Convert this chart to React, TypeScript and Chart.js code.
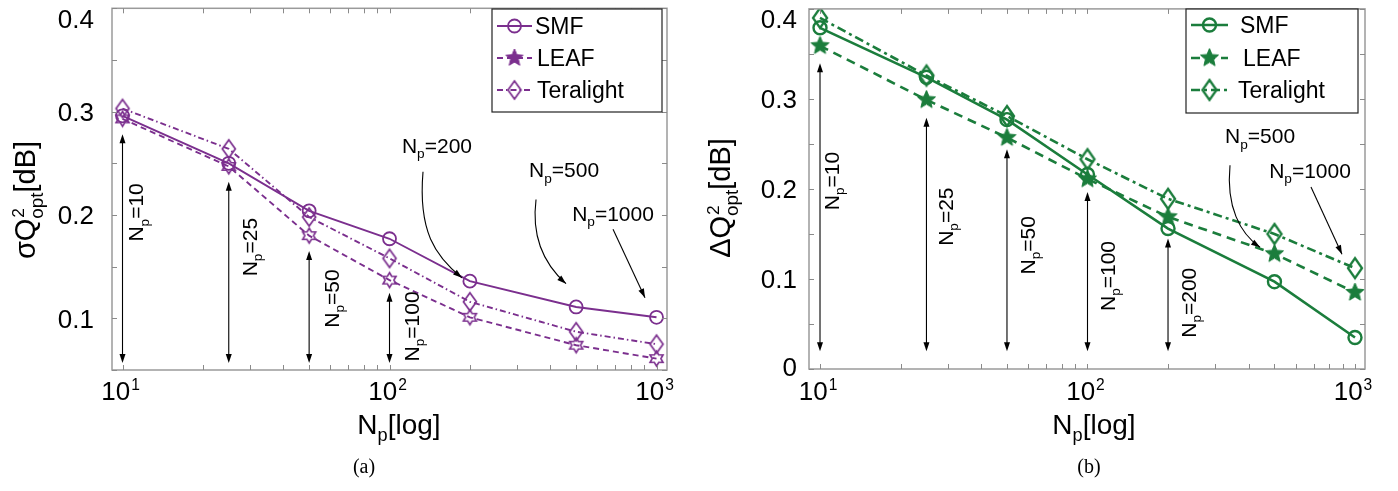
import React, { useEffect, useRef } from 'react';
import { Chart, registerables } from 'chart.js';

Chart.register(...registerables);

// ---------------- data ----------------
const npValues = [10, 25, 50, 100, 200, 500, 1000];
const fiberNames = ['SMF', 'LEAF', 'Teralight'];

// (a) sigma Q^2_opt [dB]
const sigmaSMF = [0.296, 0.25, 0.204, 0.177, 0.136, 0.111, 0.101];
const sigmaLEAF = [0.293, 0.247, 0.18, 0.137, 0.101, 0.074, 0.061];
const sigmaTeralight = [0.303, 0.264, 0.198, 0.158, 0.116, 0.087, 0.075];

// (b) Delta Q^2_opt [dB]
const deltaSMF = [0.379, 0.324, 0.277, 0.216, 0.156, 0.097, 0.035];
const deltaLEAF = [0.359, 0.299, 0.257, 0.211, 0.169, 0.128, 0.085];
const deltaTeralight = [0.39, 0.326, 0.281, 0.233, 0.189, 0.15, 0.112];

const xTickValues = [10, 100, 1000];
const xTickLabels = ['10', '10', '10'];
const xTickExponents = ['1', '2', '3'];
const xMinorTickValues = [20, 30, 40, 50, 60, 70, 80, 90, 200, 300, 400, 500, 600, 700, 800, 900];

const yTickValuesA = [0.1, 0.2, 0.3, 0.4];
const yTickLabelsA = ['0.1', '0.2', '0.3', '0.4'];
const yMinorTickValuesA = [0.05, 0.1, 0.15, 0.2, 0.25, 0.3, 0.35, 0.4];
const yTickValuesB = [0, 0.1, 0.2, 0.3, 0.4];
const yTickLabelsB = ['0', '0.1', '0.2', '0.3', '0.4'];
const yMinorTickValuesB = [0, 0.05, 0.1, 0.15, 0.2, 0.25, 0.3, 0.35, 0.4];

// annotations (data coordinates)
const vArrowsA = [
  { x: 10, from: 0.2782, to: 0.0568 },
  { x: 25, from: 0.2322, to: 0.0568 },
  { x: 50, from: 0.1651, to: 0.0568 },
  { x: 100, from: 0.1248, to: 0.0568 },
];
const vLabelsA = [
  { x: 11.23, y: 0.2025, n: '10' },
  { x: 29.77, y: 0.1689, n: '25' },
  { x: 60.38, y: 0.1191, n: '50' },
  { x: 120.4, y: 0.0922, n: '100' },
];
const hLabelsA = [
  { x: 150.6, y: 0.2677, n: '200' },
  { x: 450.5, y: 0.2437, n: '500' },
  { x: 687.3, y: 0.2015, n: '1000' },
];
const pointersA = [
  [[133.5, 0.2418], [127.9, 0.1843], [148.1, 0.1603], [186.8, 0.1392]],
  [[353.8, 0.215], [338.8, 0.1766], [382.3, 0.1517], [458.2, 0.1335]],
  [[687.3, 0.1862], [905.4, 0.12]],
];
const vArrowsB = [
  { x: 10, from: 0.3396, to: 0.0198 },
  { x: 25, from: 0.279, to: 0.0198 },
  { x: 50, from: 0.244, to: 0.0198 },
  { x: 100, from: 0.1967, to: 0.0198 },
  { x: 200, from: 0.145, to: 0.0198 },
];
const vLabelsB = [
  { x: 11.0, y: 0.2088, n: '10' },
  { x: 29.33, y: 0.1692, n: '25' },
  { x: 59.4, y: 0.1374, n: '50' },
  { x: 118.3, y: 0.1033, n: '100' },
  { x: 237.5, y: 0.0736, n: '200' },
];
const hLabelsB = [
  { x: 441.6, y: 0.2593, n: '500' },
  { x: 678.9, y: 0.2209, n: '1000' },
];
const pointersB = [
  [[341.0, 0.2264], [329.5, 0.1802], [371.6, 0.1505], [441.6, 0.1352]],
  [[684.7, 0.2022], [894.0, 0.1275]],
];

// ---------------- helpers ----------------
const FONT = "'Liberation Sans', Arial, Helvetica, sans-serif";
const SERIF = "'Liberation Serif', 'Times New Roman', serif";
const PURPLE = '#7b2f8e';
const GREEN = '#1b7d3c';

type Part = { t: string; sup?: string; sub?: string };

function partsWidth(ctx: CanvasRenderingContext2D, parts: Part[], f: number) {
  let w = 0;
  for (const p of parts) {
    ctx.font = `${f}px ${FONT}`;
    w += ctx.measureText(p.t).width;
    let adv = 0;
    if (p.sup) {
      ctx.font = `${f * 0.6}px ${FONT}`;
      adv = Math.max(adv, ctx.measureText(p.sup).width + 1);
    }
    if (p.sub) {
      ctx.font = `${f * 0.65}px ${FONT}`;
      adv = Math.max(adv, ctx.measureText(p.sub).width);
    }
    w += adv;
  }
  return w;
}

function drawParts(ctx: CanvasRenderingContext2D, parts: Part[], x: number, y: number, f: number, align: string) {
  const w = partsWidth(ctx, parts, f);
  let cx = align === 'center' ? x - w / 2 : align === 'right' ? x - w : x;
  ctx.textAlign = 'left';
  ctx.textBaseline = 'alphabetic';
  for (const p of parts) {
    ctx.font = `${f}px ${FONT}`;
    ctx.fillText(p.t, cx, y);
    cx += ctx.measureText(p.t).width;
    let adv = 0;
    if (p.sup) {
      ctx.font = `${f * 0.6}px ${FONT}`;
      ctx.fillText(p.sup, cx + 1, y - f * 0.38);
      adv = Math.max(adv, ctx.measureText(p.sup).width + 1);
    }
    if (p.sub) {
      ctx.font = `${f * 0.65}px ${FONT}`;
      ctx.fillText(p.sub, cx, y + f * 0.26);
      adv = Math.max(adv, ctx.measureText(p.sub).width);
    }
    cx += adv;
  }
}

function arrowHead(ctx: CanvasRenderingContext2D, x: number, y: number, ang: number, len: number, half: number) {
  const bx = x - len * Math.cos(ang);
  const by = y - len * Math.sin(ang);
  ctx.beginPath();
  ctx.moveTo(x, y);
  ctx.lineTo(bx + half * Math.sin(ang), by - half * Math.cos(ang));
  ctx.lineTo(bx - half * Math.sin(ang), by + half * Math.cos(ang));
  ctx.closePath();
  ctx.fill();
}

function makeMarker(size: number, draw: (c: CanvasRenderingContext2D) => void) {
  const cv = document.createElement('canvas');
  cv.width = size;
  cv.height = size;
  const c = cv.getContext('2d') as CanvasRenderingContext2D;
  c.translate(size / 2, size / 2);
  draw(c);
  return cv;
}

function starPath(c: CanvasRenderingContext2D, n: number, R: number, r: number) {
  c.beginPath();
  for (let i = 0; i < n * 2; i++) {
    const a = -Math.PI / 2 + (i * Math.PI) / n;
    const rr = i % 2 === 0 ? R : r;
    const px = rr * Math.cos(a);
    const py = rr * Math.sin(a);
    if (i === 0) c.moveTo(px, py);
    else c.lineTo(px, py);
  }
  c.closePath();
}

function hexagram(color: string, R: number, lw: number) {
  return makeMarker(Math.ceil(2 * R + 6), (c) => {
    starPath(c, 6, R, R / Math.sqrt(3));
    c.strokeStyle = color;
    c.lineWidth = lw;
    c.lineJoin = 'miter';
    c.stroke();
  });
}

function pentagram(color: string, R: number, lw: number) {
  return makeMarker(Math.ceil(2 * R + 6), (c) => {
    starPath(c, 5, R, R * 0.45);
    c.fillStyle = color;
    c.fill();
    c.strokeStyle = color;
    c.lineWidth = lw;
    c.stroke();
  });
}

function diamond(color: string, hw: number, hh: number, lw: number) {
  return makeMarker(Math.ceil(2 * hh + 6), (c) => {
    c.beginPath();
    c.moveTo(0, -hh);
    c.lineTo(hw, 0);
    c.lineTo(0, hh);
    c.lineTo(-hw, 0);
    c.closePath();
    c.strokeStyle = color;
    c.lineWidth = lw;
    c.stroke();
  });
}

const npLabel = (n: string): Part[] => [{ t: 'N', sub: 'p' }, { t: '=' + n }];

function makeDecor(d: any) {
  return {
    id: 'decor',
    afterDatasetsDraw(chart: any) {
      const { ctx, chartArea: a, scales } = chart;
      const xs = scales.x;
      const ys = scales.y;
      ctx.save();
      // frame
      ctx.strokeStyle = '#9a9a9a';
      ctx.lineWidth = 1.5;
      ctx.strokeRect(a.left, a.top, a.right - a.left, a.bottom - a.top);
      // inward ticks
      ctx.strokeStyle = '#8a8a8a';
      ctx.lineWidth = 1;
      ctx.beginPath();
      for (const v of [...xTickValues, ...xMinorTickValues]) {
        const px = Math.round(xs.getPixelForValue(v)) + 0.5;
        ctx.moveTo(px, a.bottom);
        ctx.lineTo(px, a.bottom - 5);
        ctx.moveTo(px, a.top);
        ctx.lineTo(px, a.top + 5);
      }
      for (const v of d.yMinor) {
        const py = Math.round(ys.getPixelForValue(v)) + 0.5;
        ctx.moveTo(a.left, py);
        ctx.lineTo(a.left + 5, py);
        ctx.moveTo(a.right, py);
        ctx.lineTo(a.right - 5, py);
      }
      ctx.stroke();

      // annotations
      ctx.strokeStyle = '#000';
      ctx.fillStyle = '#000';
      ctx.lineWidth = 1.1;
      for (const ar of d.vArrows) {
        const px = xs.getPixelForValue(ar.x);
        const y1 = ys.getPixelForValue(ar.from);
        const y2 = ys.getPixelForValue(ar.to);
        ctx.beginPath();
        ctx.moveTo(px, y1 + 4);
        ctx.lineTo(px, y2 - 4);
        ctx.stroke();
        arrowHead(ctx, px, y1, -Math.PI / 2, 9, 3);
        arrowHead(ctx, px, y2, Math.PI / 2, 9, 3);
      }
      for (const p of d.pointers) {
        const pts = p.map((q: number[]) => [xs.getPixelForValue(q[0]), ys.getPixelForValue(q[1])]);
        ctx.beginPath();
        ctx.moveTo(pts[0][0], pts[0][1]);
        let ang;
        const last = pts[pts.length - 1];
        if (pts.length === 4) {
          ctx.bezierCurveTo(pts[1][0], pts[1][1], pts[2][0], pts[2][1], last[0], last[1]);
          ang = Math.atan2(last[1] - pts[2][1], last[0] - pts[2][0]);
        } else {
          ctx.lineTo(last[0], last[1]);
          ang = Math.atan2(last[1] - pts[0][1], last[0] - pts[0][0]);
        }
        ctx.stroke();
        arrowHead(ctx, last[0], last[1], ang, 9, 3);
      }
      const af = 21;
      for (const l of d.vLabels) {
        const px = xs.getPixelForValue(l.x);
        const py = ys.getPixelForValue(l.y);
        ctx.save();
        ctx.translate(px + 0.358 * af, py);
        ctx.rotate(-Math.PI / 2);
        drawParts(ctx, npLabel(l.n), 0, 0, af, 'center');
        ctx.restore();
      }
      for (const l of d.hLabels) {
        const px = xs.getPixelForValue(l.x);
        const py = ys.getPixelForValue(l.y);
        drawParts(ctx, npLabel(l.n), px, py + 0.358 * af, af, 'center');
      }

      // legend
      const L = d.legend;
      ctx.fillStyle = '#fff';
      ctx.fillRect(L.x, L.y, L.w, L.h);
      ctx.strokeStyle = '#222';
      ctx.lineWidth = 1.2;
      ctx.strokeRect(L.x, L.y, L.w, L.h);
      chart.data.datasets.forEach((ds: any, i: number) => {
        const row = L.rows[i];
        ctx.strokeStyle = ds.borderColor;
        ctx.lineWidth = ds.borderWidth;
        ctx.setLineDash(ds.borderDash || []);
        ctx.beginPath();
        ctx.moveTo(L.x1, row.y);
        ctx.lineTo(L.x2, row.y);
        ctx.stroke();
        ctx.setLineDash([]);
        const style = (L.markers && L.markers[i]) || ds.pointStyle;
        const mx = (L.x1 + L.x2) / 2;
        if (typeof style === 'string') {
          ctx.beginPath();
          ctx.arc(mx, row.y, ds.pointRadius, 0, Math.PI * 2);
          ctx.lineWidth = ds.pointBorderWidth;
          ctx.strokeStyle = ds.pointBorderColor;
          ctx.stroke();
        } else {
          ctx.drawImage(style, mx - style.width / 2, row.y - style.height / 2);
        }
        ctx.fillStyle = '#000';
        ctx.font = `${L.font}px ${FONT}`;
        ctx.textAlign = 'left';
        ctx.textBaseline = 'alphabetic';
        ctx.fillText(fiberNames[i], row.textX, row.y + 0.358 * L.font);
      });
      ctx.restore();
    },
    afterDraw(chart: any) {
      const { ctx, chartArea: a, scales } = chart;
      const xs = scales.x;
      const ys = scales.y;
      ctx.save();
      ctx.fillStyle = '#000';
      const tf = 26;
      d.yTicks.forEach((v: number, i: number) => {
        let py = ys.getPixelForValue(v);
        py = Math.min(Math.max(py, a.top + 10), a.bottom - 2);
        ctx.font = `${tf}px ${FONT}`;
        ctx.textAlign = 'right';
        ctx.textBaseline = 'alphabetic';
        ctx.fillText(d.yLabels[i], a.left - d.labelGap, py + 0.358 * tf);
      });
      xTickValues.forEach((v, i) => {
        const px = xs.getPixelForValue(v);
        drawParts(ctx, [{ t: xTickLabels[i], sup: xTickExponents[i] }], px - 2, 400, tf, 'center');
      });
      // axis titles
      drawParts(ctx, [{ t: 'N', sub: 'p' }, { t: '[log]' }], d.xTitleX, 434, 28, 'center');
      ctx.save();
      ctx.translate(d.yTitleX, d.yTitleY);
      ctx.rotate(-Math.PI / 2);
      drawParts(ctx, d.yTitle, 0, 0, 29, 'center');
      ctx.restore();
      // caption
      ctx.font = `20px ${SERIF}`;
      ctx.textAlign = 'center';
      ctx.textBaseline = 'alphabetic';
      ctx.fillText(d.caption, d.captionX, 473);
      ctx.restore();
    },
  };
}

function buildDatasets(values: number[][], color: string, lw: number, styles: any[], dashes: number[][], circleR: number, circleW: number) {
  return values.map((vals, i) => ({
    label: fiberNames[i],
    data: npValues.map((x, j) => ({ x, y: vals[j] })),
    borderColor: color,
    borderWidth: lw,
    borderDash: dashes[i],
    pointStyle: styles[i],
    pointRadius: circleR,
    pointHoverRadius: circleR,
    pointBorderColor: color,
    pointBackgroundColor: 'rgba(0,0,0,0)',
    pointBorderWidth: circleW,
    tension: 0,
    fill: false,
  }));
}

function makeOptions(xmin: number, xmax: number, ymin: number, ymax: number, pad: any) {
  return {
    animation: false as const,
    responsive: false,
    maintainAspectRatio: false,
    devicePixelRatio: 1,
    events: [] as any[],
    layout: { padding: pad },
    scales: {
      x: { type: 'logarithmic' as const, min: xmin, max: xmax, bounds: 'data' as const, display: false },
      y: { type: 'linear' as const, min: ymin, max: ymax, bounds: 'data' as const, display: false },
    },
    plugins: { legend: { display: false }, tooltip: { enabled: false }, title: { display: false } },
  };
}

export default function App() {
  const refA = useRef<HTMLCanvasElement>(null);
  const refB = useRef<HTMLCanvasElement>(null);

  useEffect(() => {
    const charts: Chart[] = [];
    const hexA = hexagram(PURPLE, 7.5, 1.6);
    const diaA = diamond(PURPLE, 6.5, 9, 1.7);
    const pentLegA = pentagram(PURPLE, 9, 1);
    const pentB = pentagram(GREEN, 9.5, 1);
    const diaB = diamond(GREEN, 7, 10, 2.3);

    if (refA.current) {
      const dsA = buildDatasets(
        [sigmaSMF, sigmaLEAF, sigmaTeralight],
        PURPLE,
        1.9,
        ['circle', hexA, diaA],
        [[], [6, 4], [6, 3, 1.5, 3]],
        6.5,
        1.8
      );
      charts.push(
        new Chart(refA.current, {
          type: 'line',
          data: { datasets: dsA as any },
          options: makeOptions(9.134, 1094.7, 0.05, 0.4, { left: 112, top: 5, right: 32, bottom: 121 }) as any,
          plugins: [
            makeDecor({
              yTicks: yTickValuesA,
              yLabels: yTickLabelsA,
              yMinor: yMinorTickValuesA,
              labelGap: 18,
              yTitle: [{ t: '\u03c3Q', sup: '2', sub: 'opt' }, { t: '[dB]' }],
              yTitleX: 35,
              yTitleY: 200,
              xTitleX: 399,
              caption: '(a)',
              captionX: 364,
              vArrows: vArrowsA,
              vLabels: vLabelsA,
              hLabels: hLabelsA,
              pointers: pointersA,
              legend: {
                x: 492, y: 9, w: 170, h: 103, x1: 497, x2: 532, font: 23,
                rows: [{ y: 26, textX: 535 }, { y: 58, textX: 537 }, { y: 90, textX: 537 }],
                markers: [null, pentLegA, null],
              },
            }),
          ],
        })
      );
    }
    if (refB.current) {
      const dsB = buildDatasets(
        [deltaSMF, deltaLEAF, deltaTeralight],
        GREEN,
        2.6,
        ['circle', pentB, diaB],
        [[], [9, 6], [9, 4, 3, 4]],
        6.5,
        2.4
      );
      charts.push(
        new Chart(refB.current, {
          type: 'line',
          data: { datasets: dsB as any },
          options: makeOptions(9.096, 1090, 0, 0.4, { left: 110, top: 5, right: 33, bottom: 122 }) as any,
          plugins: [
            makeDecor({
              yTicks: yTickValuesB,
              yLabels: yTickLabelsB,
              yMinor: yMinorTickValuesB,
              labelGap: 12,
              yTitle: [{ t: '\u0394Q', sup: '2', sub: 'opt' }, { t: '[dB]' }],
              yTitleX: 31,
              yTitleY: 198,
              xTitleX: 395,
              caption: '(b)',
              captionX: 390,
              vArrows: vArrowsB,
              vLabels: vLabelsB,
              hLabels: hLabelsB,
              pointers: pointersB,
              legend: {
                x: 487, y: 9, w: 172, h: 104, x1: 492, x2: 529, font: 23,
                rows: [{ y: 25, textX: 541 }, { y: 58, textX: 544 }, { y: 90, textX: 539 }],
                markers: [null, null, null],
              },
            }),
          ],
        })
      );
    }
    return () => {
      charts.forEach((c) => c.destroy());
    };
  }, []);

  return (
    <div style={{ position: 'absolute', left: 0, top: 0, width: 1398, height: 491, background: '#fff' }}>
      <canvas ref={refA} width={699} height={491} style={{ position: 'absolute', left: 0, top: 0, width: 699, height: 491 }} />
      <canvas ref={refB} width={699} height={491} style={{ position: 'absolute', left: 699, top: 0, width: 699, height: 491 }} />
    </div>
  );
}
